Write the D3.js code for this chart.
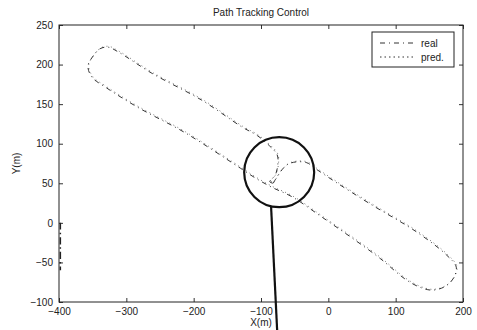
<!DOCTYPE html>
<html>
<head>
<meta charset="utf-8">
<script src="https://cdn.jsdelivr.net/npm/d3@7"></script>
<style>
  body { margin: 0; background: #fff; }
  svg { display: block; }
  text { font-family: "Liberation Sans", Arial, sans-serif; fill: #222; }
</style>
</head>
<body>
<svg id="chart"></svg>
<script>
// data
const xTicks = [-400, -300, -200, -100, 0, 100, 200];
const yTicks = [-100, -50, 0, 50, 100, 150, 200, 250];

const realX = [-82, -69, -60, -48, -32, -20, 10, 62, 132, 176, 190, 185, 172, 154, 135, 114, 77, 35, -9, -54, -84, -109, -134, -213, -283, -332, -351, -357, -350, -339, -327, -312, -262, -188, -128, -105, -87, -76, -75, -79, -87, -82];
const realY = [50, 67, 74, 77, 76, 69, 52, 24, -12, -41, -56, -71, -81, -85, -81, -71, -45, -19, 7, 33, 45, 57, 71, 114, 146, 172, 184, 198, 210, 220, 222, 216, 189, 155, 121, 110, 97, 86, 74, 60, 52, 50];

const predX = [-81, -68, -59, -47, -31, -19, 11, 63, 133, 177, 191, 186, 173, 155, 136, 115, 78, 36, -8, -53, -83, -108, -133, -212, -282, -331, -350, -356, -349, -338, -326, -311, -261, -187, -127, -104, -86, -75, -74, -78, -86, -81];
const predY = [51, 68, 75, 78, 77, 70, 53, 25, -11, -40, -55, -70, -80, -84, -80, -70, -44, -18, 8, 34, 46, 58, 72, 115, 147, 173, 185, 199, 211, 221, 223, 217, 190, 156, 122, 111, 98, 87, 75, 61, 53, 51];

// start segment along the left border
const entryX = [-398, -398, -398];
const entryY = [0, -30, -60];

// highlighted region + pointer
const circleCenter = [-73, 64];
const circleRadiusPx = 35;
const pointerX = [-85, -76];
const pointerY = [20, -136];

const W = 477, H = 330;
const margin = { left: 59, right: 14, top: 25, bottom: 28 };

const svg = d3.select("#chart").attr("width", W).attr("height", H);

const x = d3.scaleLinear().domain([-400, 200]).range([margin.left, W - margin.right]);
const y = d3.scaleLinear().domain([-100, 250]).range([H - margin.bottom, margin.top]);

svg.append("defs").append("clipPath").attr("id", "clip")
    .append("rect")
    .attr("x", x(-400)).attr("y", y(250))
    .attr("width", x(200) - x(-400)).attr("height", y(-100) - y(250));

// axes (MATLAB style, ticks inside, box all around)
svg.append("g")
    .attr("transform", "translate(0," + y(-100) + ")")
    .call(d3.axisBottom(x).tickValues(xTicks).tickSize(-4).tickPadding(6).tickFormat(d3.format("d")))
    .call(g => g.select(".domain").remove())
    .selectAll("text").style("font-size", "10px");

svg.append("g")
    .attr("transform", "translate(0," + y(250) + ")")
    .call(d3.axisTop(x).tickValues(xTicks).tickSize(-4).tickFormat(""))
    .call(g => g.select(".domain").remove());

svg.append("g")
    .attr("transform", "translate(" + x(-400) + ",0)")
    .call(d3.axisLeft(y).tickValues(yTicks).tickSize(-4).tickPadding(6).tickFormat(d3.format("d")))
    .call(g => g.select(".domain").remove())
    .selectAll("text").style("font-size", "10px");

svg.append("g")
    .attr("transform", "translate(" + x(200) + ",0)")
    .call(d3.axisRight(y).tickValues(yTicks).tickSize(-4).tickFormat(""))
    .call(g => g.select(".domain").remove());

svg.selectAll(".tick line").attr("stroke", "#333");

svg.append("rect")
    .attr("x", x(-400)).attr("y", y(250))
    .attr("width", x(200) - x(-400)).attr("height", y(-100) - y(250))
    .attr("fill", "none").attr("stroke", "#222").attr("stroke-width", 1);

// tracks
const line = d3.line().x(d => x(d[0])).y(d => y(d[1])).curve(d3.curveCatmullRom);
const plot = svg.append("g").attr("clip-path", "url(#clip)");

plot.append("path")
    .datum(d3.zip(predX, predY))
    .attr("d", line)
    .attr("fill", "none").attr("stroke", "#555").attr("stroke-width", 0.8)
    .attr("stroke-dasharray", "1,3.5");

plot.append("path")
    .datum(d3.zip(realX, realY))
    .attr("d", line)
    .attr("fill", "none").attr("stroke", "#333").attr("stroke-width", 1)
    .attr("stroke-dasharray", "5,4,1,4");

plot.append("path")
    .datum(d3.zip(entryX, entryY))
    .attr("d", line)
    .attr("fill", "none").attr("stroke", "#222").attr("stroke-width", 1.5)
    .attr("stroke-dasharray", "7,3,1.5,3");

// circle annotation
svg.append("circle")
    .attr("cx", x(circleCenter[0])).attr("cy", y(circleCenter[1]))
    .attr("r", circleRadiusPx)
    .attr("fill", "none").attr("stroke", "#111").attr("stroke-width", 2.2);

svg.append("path")
    .datum(d3.zip(pointerX, pointerY))
    .attr("d", d3.line().x(d => x(d[0])).y(d => y(d[1])))
    .attr("fill", "none").attr("stroke", "#111").attr("stroke-width", 2.2);

// legend
const lg = svg.append("g").attr("transform", "translate(372,32)");
lg.append("rect").attr("width", 82).attr("height", 35)
    .attr("fill", "#fff").attr("stroke", "#222").attr("stroke-width", 1);
lg.append("line").attr("x1", 8).attr("x2", 44).attr("y1", 11).attr("y2", 11)
    .attr("stroke", "#333").attr("stroke-width", 1).attr("stroke-dasharray", "5,4,1,4");
lg.append("line").attr("x1", 8).attr("x2", 44).attr("y1", 25).attr("y2", 25)
    .attr("stroke", "#333").attr("stroke-width", 1).attr("stroke-dasharray", "1.5,3");
lg.append("text").attr("x", 49).attr("y", 14.5).style("font-size", "10px").text("real");
lg.append("text").attr("x", 49).attr("y", 28.5).style("font-size", "10px").text("pred.");

// titles
svg.append("text")
    .attr("x", (x(-400) + x(200)) / 2).attr("y", 16)
    .attr("text-anchor", "middle").style("font-size", "10px")
    .text("Path Tracking Control");

svg.append("text")
    .attr("x", (x(-400) + x(200)) / 2).attr("y", 326)
    .attr("text-anchor", "middle").style("font-size", "10px")
    .text("X(m)");

svg.append("text")
    .attr("transform", "translate(20," + y(75) + ") rotate(-90)")
    .attr("text-anchor", "middle").style("font-size", "10px")
    .text("Y(m)");
</script>
</body>
</html>
